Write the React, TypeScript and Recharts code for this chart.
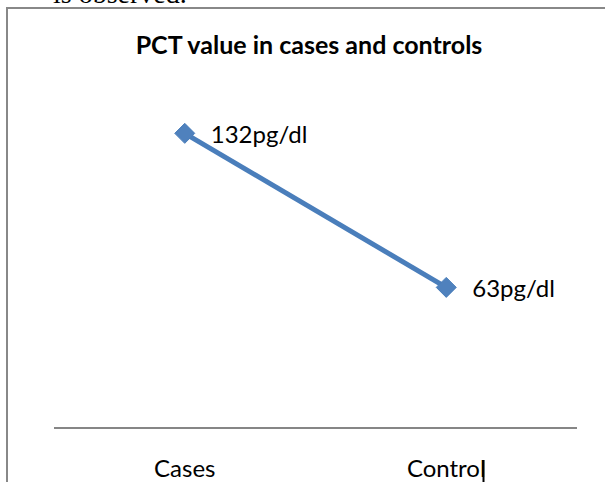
import { LineChart, Line, XAxis, YAxis, LabelList } from 'recharts'

// PCT value in cases and controls
const categories = ['Cases', 'Control']
const pctValues = [132, 63]
const unit = 'pg/dl'
const yDomain = [0, 140]

const chartData = categories.map((name, i) => ({ name, pct: pctValues[i] }))

const FONT = 'Lato, "Open Sans", sans-serif'
const BLUE = '#4A7EBB'

function DiamondDot(props: any) {
  const { cx, cy } = props
  if (cx == null || cy == null) return null
  const r = 10
  return (
    <polygon
      points={`${cx},${cy - r} ${cx + r},${cy} ${cx},${cy + r} ${cx - r},${cy}`}
      fill="#4F81BD"
      stroke={BLUE}
      strokeWidth={1}
    />
  )
}

function CategoryTick(props: any) {
  const { x, y, payload } = props
  return (
    <text x={x} y={y} dy={41} textAnchor="middle" fontFamily={FONT} fontSize={24} fill="#000">
      {payload.value}
    </text>
  )
}

function ValueLabel(props: any) {
  const { x, y, value } = props
  return (
    <text x={x + 26} y={y} dy={10} fontFamily={FONT} fontSize={24} fill="#000">
      {`${value}${unit}`}
    </text>
  )
}

export default function App() {
  return (
    <div
      style={{
        position: 'fixed',
        left: 0,
        top: 0,
        width: 605,
        height: 482,
        background: '#fff',
        overflow: 'hidden',
      }}
    >
      <LineChart
        width={605}
        height={482}
        data={chartData}
        margin={{ top: 115.5, right: 28, bottom: 24, left: 54 }}
      >
        <XAxis
          dataKey="name"
          height={30}
          padding={{ left: 130.75, right: 130.75 }}
          axisLine={{ stroke: '#868686', strokeWidth: 2 }}
          tickLine={false}
          tick={<CategoryTick />}
          interval={0}
        />
        <YAxis hide domain={yDomain} />
        <Line
          type="linear"
          dataKey="pct"
          stroke={BLUE}
          strokeWidth={5}
          dot={<DiamondDot />}
          activeDot={false}
          isAnimationActive={false}
        >
          <LabelList dataKey="pct" content={<ValueLabel />} />
        </Line>
      </LineChart>

      {/* page bits around the chart: frame, title, cut-off text */}
      <svg
        width={605}
        height={482}
        style={{ position: 'absolute', left: 0, top: 0, pointerEvents: 'none' }}
      >
        <text x={53} y={3} fontFamily='"Liberation Serif", serif' fontSize={28} fill="#000">
          is observed.
        </text>
        <line x1={6} y1={8} x2={605} y2={8} stroke="#888" strokeWidth={2} />
        <line x1={7} y1={8} x2={7} y2={482} stroke="#888" strokeWidth={2} />
        <line x1={483.5} y1={460} x2={483.5} y2={482} stroke="#000" strokeWidth={2} />
        <text
          x={309}
          y={54}
          textAnchor="middle"
          fontFamily={FONT}
          fontWeight="bold"
          fontSize={25}
          fill="#000"
        >
          PCT value in cases and controls
        </text>
      </svg>
    </div>
  )
}
